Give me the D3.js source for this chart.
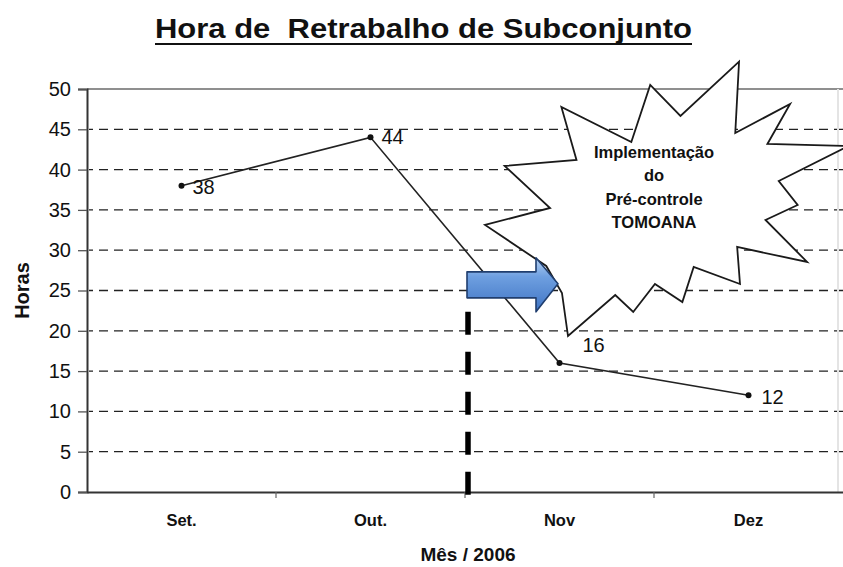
<!DOCTYPE html>
<html>
<head>
<meta charset="utf-8">
<script src="https://cdn.jsdelivr.net/npm/d3@7"></script>
<style>
  html, body { margin: 0; padding: 0; background: #fff; }
  svg { display: block; font-family: "Liberation Sans", Arial, Helvetica, sans-serif; }
</style>
</head>
<body>
<svg id="chart" width="843" height="567"></svg>
<script>
// Monthly rework hours for the sub-assembly line
const months = ["Set.", "Out.", "Nov", "Dez"];
const horas = [38, 44, 16, 12];
const yTickValues = [0, 5, 10, 15, 20, 25, 30, 35, 40, 45, 50];
const titleText = "Hora de  Retrabalho de Subconjunto";
const yTitle = "Horas";
const xTitle = "Mês / 2006";
const calloutLines = ["Implementação", "do", "Pré-controle", "TOMOANA"];

const W = 843, H = 567;
const plot = { left: 87, right: 843, top: 89, bottom: 492 };

const svg = d3.select("#chart");

const x = d3.scaleBand().domain(months).range([plot.left, plot.right]).padding(0);
const y = d3.scaleLinear().domain([0, 50]).range([plot.bottom, plot.top]);
// continuous helper over category units (0 = left edge, 4 = right edge)
const xu = d3.scaleLinear().domain([0, months.length]).range([plot.left, plot.right]);

// ---- title ----
svg.append("text")
  .attr("x", 423.5).attr("y", 38)
  .attr("text-anchor", "middle")
  .attr("font-size", 27).attr("font-weight", "bold")
  .attr("textLength", 537).attr("lengthAdjust", "spacingAndGlyphs")
  .attr("fill", "#111")
  .style("white-space", "pre")
  .text(titleText);
svg.append("line")
  .attr("x1", 155).attr("x2", 692).attr("y1", 44).attr("y2", 44)
  .attr("stroke", "#111").attr("stroke-width", 2);

// ---- gridlines ----
svg.append("g").selectAll("line")
  .data(yTickValues.filter(v => v > 0 && v < 50))
  .join("line")
  .attr("x1", plot.left + 2).attr("x2", plot.right)
  .attr("y1", d => y(d)).attr("y2", d => y(d))
  .attr("stroke", "#222").attr("stroke-width", 1.3)
  .attr("stroke-dasharray", "9,6").attr("stroke-dashoffset", -10);

// plot frame top / right
svg.append("line")
  .attr("x1", plot.left).attr("x2", plot.right)
  .attr("y1", y(50)).attr("y2", y(50))
  .attr("stroke", "#6a6a6a").attr("stroke-width", 1.6);
svg.append("line")
  .attr("x1", 838).attr("x2", 838).attr("y1", y(50)).attr("y2", y(0))
  .attr("stroke", "#e4e4e4").attr("stroke-width", 2);

// ---- axes ----
const yAxis = d3.axisLeft(y).tickValues(yTickValues).tickSize(9).tickPadding(6);
const gy = svg.append("g").attr("transform", `translate(${plot.left},0)`).call(yAxis);
gy.attr("font-size", null).attr("font-family", null);
gy.select(".domain").attr("stroke", "#333").attr("stroke-width", 2);
gy.selectAll(".tick line").attr("stroke", "#555").attr("stroke-width", 1.3);
gy.selectAll(".tick text").style("font-size", "20px").attr("fill", "#111").attr("dx", -1);

const xAxis = d3.axisBottom(x).tickSize(0).tickPadding(16);
const gx = svg.append("g").attr("transform", `translate(0,${plot.bottom})`).call(xAxis);
gx.attr("font-size", null).attr("font-family", null);
gx.select(".domain").attr("stroke", "#333").attr("stroke-width", 2);
gx.selectAll(".tick text").style("font-size", "16.5px").style("font-weight", "bold")
  .attr("fill", "#111").attr("dy", "1.1em");
// category boundary ticks
svg.append("g").selectAll("line")
  .data(d3.range(1, months.length))
  .join("line")
  .attr("x1", d => xu(d)).attr("x2", d => xu(d))
  .attr("y1", plot.bottom).attr("y2", plot.bottom + 6)
  .attr("stroke", "#666").attr("stroke-width", 1.2);

// axis titles
svg.append("text")
  .attr("transform", `translate(29,${(plot.top + plot.bottom) / 2}) rotate(-90)`)
  .attr("text-anchor", "middle")
  .style("font-size", "20px").style("font-weight", "bold").attr("fill", "#111")
  .text(yTitle);
svg.append("text")
  .attr("x", 468).attr("y", 561)
  .attr("text-anchor", "middle")
  .style("font-size", "19px").style("font-weight", "bold").attr("fill", "#111")
  .text(xTitle);

// ---- data line ----
const pts = months.map((m, i) => [x(m) + x.bandwidth() / 2, y(horas[i])]);
svg.append("path")
  .attr("d", d3.line()(pts))
  .attr("fill", "none").attr("stroke", "#222").attr("stroke-width", 1.6);
svg.append("g").selectAll("circle")
  .data(pts).join("circle")
  .attr("cx", d => d[0]).attr("cy", d => d[1]).attr("r", 3)
  .attr("fill", "#111");

// value labels
const labelOffsets = [[11, 8], [11, 7], [23, -11], [13, 9]];
svg.append("g").selectAll("text")
  .data(horas).join("text")
  .attr("x", (d, i) => pts[i][0] + labelOffsets[i][0])
  .attr("y", (d, i) => pts[i][1] + labelOffsets[i][1])
  .style("font-size", "20px").attr("fill", "#111")
  .text(d => d);

// ---- thick dashed marker between Out. and Nov ----
const markX = xu(2) + 3;
const arrowCy = y(25.7);
svg.append("line")
  .attr("x1", markX).attr("x2", markX)
  .attr("y1", arrowCy + 27).attr("y2", plot.bottom + 4)
  .attr("stroke", "#000").attr("stroke-width", 5.5)
  .attr("stroke-dasharray", "23,17");

// ---- callout starburst (vertices in category units / hours) ----
const burst = [
  [2.21, 40.45], [2.59, 41.19], [2.51, 47.77], [2.88, 43.42], [2.98, 50.5],
  [3.14, 46.65], [3.45, 53.39], [3.43, 44.54], [3.72, 48.14], [3.60, 43.18],
  [4.03, 42.93], [3.66, 38.59], [3.76, 35.61], [3.59, 33.75], [3.81, 28.54],
  [3.44, 30.40], [3.455, 25.81], [3.21, 27.92], [3.15, 23.57], [3.005, 25.81],
  [2.89, 22.33], [2.795, 24.44], [2.545, 19.35], [2.513, 24.69], [2.43, 28.04],
  [2.106, 33.13], [2.45, 35.24]
];
svg.append("path")
  .attr("d", d3.line().curve(d3.curveLinearClosed)(burst.map(p => [xu(p[0]), y(p[1])])))
  .attr("fill", "#fff").attr("stroke", "#1a1a1a").attr("stroke-width", 1.8)
  .attr("stroke-linejoin", "miter");

svg.append("g").selectAll("text")
  .data(calloutLines).join("text")
  .attr("x", 654)
  .attr("y", (d, i) => 158 + i * 23.3)
  .attr("text-anchor", "middle")
  .style("font-size", "16.5px").style("font-weight", "bold").attr("fill", "#111")
  .text(d => d);

// ---- blue block arrow ----
const defs = svg.append("defs");
const grad = defs.append("linearGradient").attr("id", "arrowFill")
  .attr("x1", 0).attr("y1", 0).attr("x2", 0).attr("y2", 1);
grad.append("stop").attr("offset", "0%").attr("stop-color", "#b4d0f2");
grad.append("stop").attr("offset", "35%").attr("stop-color", "#6e9fe0");
grad.append("stop").attr("offset", "100%").attr("stop-color", "#3f74c4");

const ax0 = xu(2) + 2, axHead = ax0 + 69, axTip = ax0 + 91;
const arrowPts = [
  [ax0, arrowCy - 13], [axHead, arrowCy - 13], [axHead, arrowCy - 27],
  [axTip, arrowCy - 1], [axHead, arrowCy + 27], [axHead, arrowCy + 13],
  [ax0, arrowCy + 13]
];
svg.append("path")
  .attr("d", d3.line().curve(d3.curveLinearClosed)(arrowPts))
  .attr("fill", "url(#arrowFill)")
  .attr("stroke", "#203e6e").attr("stroke-width", 1.6)
  .attr("stroke-linejoin", "round");
</script>
</body>
</html>
